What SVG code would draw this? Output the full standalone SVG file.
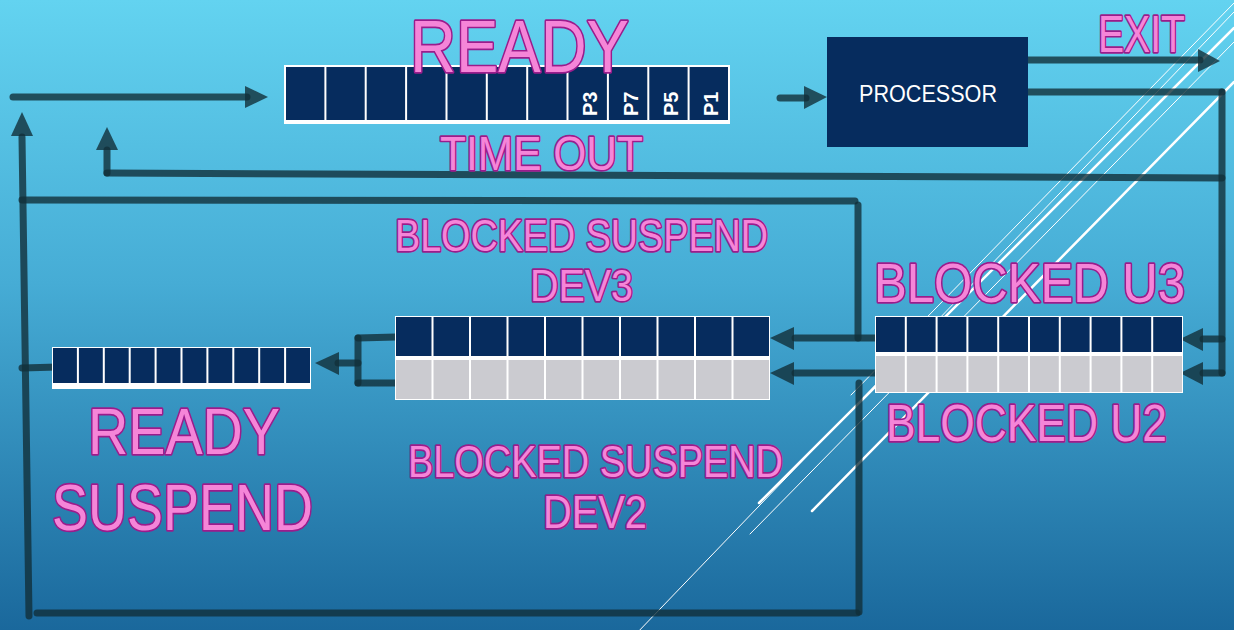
<svg xmlns="http://www.w3.org/2000/svg" width="1234" height="630" viewBox="0 0 1234 630">
<defs>
<linearGradient id="bg" x1="0" y1="0" x2="0" y2="1">
<stop offset="0" stop-color="#63d3f0"/>
<stop offset="0.45" stop-color="#46acd5"/>
<stop offset="1" stop-color="#1a689c"/>
</linearGradient>
<style>
.lbl{font-family:"Liberation Sans",Arial,sans-serif;font-weight:normal;fill:#f585d8;stroke:#9a1c8c;stroke-width:3.4;paint-order:stroke;stroke-linejoin:round}
.dark{fill:#062c5e}
.grey{fill:#cbcbd0}
.frame{fill:none;stroke:#ffffff;stroke-width:2}
.div{fill:none;stroke:#ffffff;stroke-width:2}
.pl{font-family:"Liberation Sans",Arial,sans-serif;font-weight:bold;font-size:20px;fill:#ffffff}
.c{fill:none;stroke:#12303a;stroke-opacity:0.8;stroke-width:7;stroke-linecap:round}
.ah{fill:#12303a;fill-opacity:0.8}
.dl{stroke:#ffffff;fill:none;stroke-linecap:round}
</style>
</defs>
<rect x="0" y="0" width="1234" height="630" fill="url(#bg)"/>

<g id="decoration">
<line class="dl" x1="635" y1="635" x2="1234" y2="12" stroke-width="1"/>
<line class="dl" x1="759" y1="503" x2="1234" y2="28" stroke-width="2.5"/>
<line class="dl" x1="750" y1="534" x2="1234" y2="42" stroke-width="1"/>
<line class="dl" x1="812" y1="511" x2="1234" y2="82" stroke-width="2.5"/>
<line class="dl" x1="851" y1="395" x2="1234" y2="3" stroke-width="1"/>
</g>

<g id="connectors">
<line class="c" x1="13" y1="97" x2="247" y2="97"/>
<polygon class="ah" points="268,97 245,86 245,108"/>
<line class="c" x1="29" y1="616" x2="22" y2="137"/>
<polygon class="ah" points="22,112 11,136 33,136"/>
<line class="c" x1="107" y1="173" x2="1222" y2="178"/>
<line class="c" x1="107" y1="173" x2="107" y2="150"/>
<polygon class="ah" points="107,127 96,150 118,150"/>
<line class="c" x1="780" y1="98" x2="806" y2="98"/>
<polygon class="ah" points="827,97 804,86 804,109"/>
<line class="c" x1="1026" y1="60" x2="1200" y2="60"/>
<polygon class="ah" points="1220,61 1198,49 1198,72"/>
<line class="c" x1="1026" y1="92" x2="1222" y2="92"/>
<line class="c" x1="1222" y1="92" x2="1222" y2="373"/>
<line class="c" x1="1222" y1="339" x2="1203" y2="339"/>
<polygon class="ah" points="1180,339 1203,328 1203,351"/>
<line class="c" x1="1222" y1="373" x2="1203" y2="373"/>
<polygon class="ah" points="1180,373 1203,362 1203,385"/>
<line class="c" x1="877" y1="338" x2="795" y2="338"/>
<polygon class="ah" points="770,338 794,327 794,350"/>
<line class="c" x1="858" y1="205" x2="858" y2="338"/>
<line class="c" x1="22" y1="200" x2="855" y2="201"/>
<line class="c" x1="877" y1="373" x2="795" y2="373"/>
<polygon class="ah" points="770,373 794,362 794,385"/>
<line class="c" x1="859" y1="383" x2="859" y2="612"/>
<line class="c" x1="857" y1="613" x2="37" y2="613"/>
<line class="c" x1="396" y1="337" x2="358" y2="338"/>
<line class="c" x1="358" y1="338" x2="358" y2="383"/>
<line class="c" x1="358" y1="383" x2="396" y2="383"/>
<line class="c" x1="358" y1="363" x2="338" y2="363"/>
<polygon class="ah" points="315,363 339,352 339,375"/>
<line class="c" x1="22" y1="368" x2="58" y2="367"/>
</g>

<g id="node-ready">
<rect class="dark" x="285" y="66" width="444" height="56"/>
<rect x="285" y="120" width="444" height="4" fill="#ffffff"/>
<rect class="frame" x="285" y="66" width="444" height="57"/>
<path class="div" d="M325.4 66V122M365.7 66V122M406.1 66V122M446.5 66V122M486.8 66V122M527.2 66V122M567.5 66V122M607.9 66V122M648.3 66V122M688.6 66V122"/>
<text class="pl" transform="translate(597,116) rotate(-90)">P3</text>
<text class="pl" transform="translate(638,116) rotate(-90)">P7</text>
<text class="pl" transform="translate(678,116) rotate(-90)">P5</text>
<text class="pl" transform="translate(718,116) rotate(-90)">P1</text>
<text class="lbl" x="410" y="72" font-size="75" textLength="219" lengthAdjust="spacingAndGlyphs">READY</text>
<text class="lbl" x="440" y="170" font-size="49" textLength="203" lengthAdjust="spacingAndGlyphs">TIME OUT</text>
</g>

<g id="node-processor">
<rect x="827" y="37" width="201" height="110" fill="#062c5e"/>
<text x="859" y="102" font-family="Liberation Sans, Arial, sans-serif" font-size="23" fill="#ffffff" textLength="138" lengthAdjust="spacingAndGlyphs">PROCESSOR</text>
</g>

<g id="node-exit">
<text class="lbl" x="1098" y="52" font-size="51" textLength="87" lengthAdjust="spacingAndGlyphs">EXIT</text>
</g>

<g id="node-blocked">
<text class="lbl" x="874" y="302" font-size="55" textLength="311" lengthAdjust="spacingAndGlyphs">BLOCKED U3</text>
<rect x="875" y="316" width="308" height="77" fill="#ffffff"/>
<rect class="dark" x="876" y="317" width="306" height="35"/>
<rect class="grey" x="876" y="356" width="306" height="36"/>
<path class="div" d="M905.8 316V393M936.6 316V393M967.4 316V393M998.2 316V393M1029 316V393M1059.8 316V393M1090.6 316V393M1121.4 316V393M1152.2 316V393"/>
<text class="lbl" x="886" y="441" font-size="51" textLength="281" lengthAdjust="spacingAndGlyphs">BLOCKED U2</text>
</g>

<g id="node-blocked-suspend">
<text class="lbl" x="395" y="251" font-size="45" textLength="373" lengthAdjust="spacingAndGlyphs">BLOCKED SUSPEND</text>
<text class="lbl" x="530" y="301" font-size="45" textLength="103" lengthAdjust="spacingAndGlyphs">DEV3</text>
<rect x="395" y="316" width="375" height="84" fill="#ffffff"/>
<rect class="dark" x="396" y="317" width="373" height="39"/>
<rect class="grey" x="396" y="360" width="373" height="39"/>
<path class="div" d="M432.5 316V400M470 316V400M507.5 316V400M545 316V400M582.5 316V400M620 316V400M657.5 316V400M695 316V400M732.5 316V400"/>
<text class="lbl" x="408" y="477" font-size="45" textLength="375" lengthAdjust="spacingAndGlyphs">BLOCKED SUSPEND</text>
<text class="lbl" x="543" y="528" font-size="47" textLength="104" lengthAdjust="spacingAndGlyphs">DEV2</text>
</g>

<g id="node-ready-suspend">
<rect x="52" y="347" width="259" height="42" fill="#ffffff"/>
<rect class="dark" x="53" y="348" width="257" height="35"/>
<path class="div" d="M77.9 347V385M103.8 347V385M129.7 347V385M155.6 347V385M181.5 347V385M207.4 347V385M233.3 347V385M259.2 347V385M285.1 347V385"/>
<text class="lbl" x="88" y="454" font-size="65" textLength="192" lengthAdjust="spacingAndGlyphs">READY</text>
<text class="lbl" x="52" y="530" font-size="65" textLength="261" lengthAdjust="spacingAndGlyphs">SUSPEND</text>
</g>
</svg>
